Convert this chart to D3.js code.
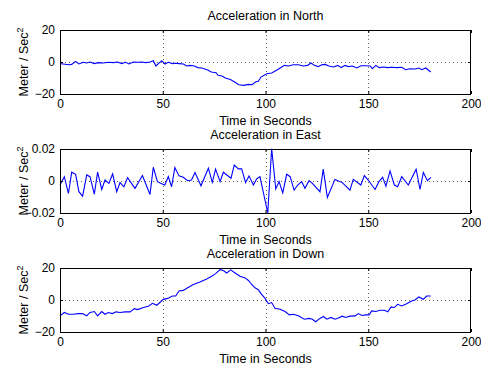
<!DOCTYPE html>
<html>
<head>
<meta charset="utf-8">
<script src="https://cdn.jsdelivr.net/npm/d3@7"></script>
<style>
html,body{margin:0;padding:0;background:#fff;}
svg{display:block;}
text{font-family:"Liberation Sans",Arial,Helvetica,sans-serif;fill:#000;}
</style>
</head>
<body>
<svg id="chart" width="481" height="367"></svg>
<script>
// ---- data ----
const titles = ["Acceleration in North", "Acceleration in East", "Acceleration in Down"];
const xTicks = [0, 50, 100, 150, 200];
const northYTicks = [-20, 0, 20];
const eastYTicks = [-0.02, 0, 0.02];
const downYTicks = [-20, 0, 20];

const northT = [0,1.6,4.1,5.7,7.6,9.2,11.4,13,14.6,16.7,18.6,21.1,23.5,25.9,28,30,31.9,33.6,35.7,37.8,39.7,41.7,43.8,45.4,46.7,48.3,49.5,51.1,52.7,54.7,56.3,57.9,60,61.7,63.3,65.4,67.1,69,71.9,73.6,75.9,76.9,78.8,80.5,82.9,85,87,89.5,91.6,93.5,95.1,96.5,97.8,100.6,103,105.4,107.9,109.2,111.1,113.5,116,118.4,120.5,122.1,123.8,125.7,127.3,129,130.9,133,135.2,136.8,138.7,140.4,142.3,144.4,146.5,148.5,150.9,152,153.7,155.3,157.4,159.5,161.5,163.9,166.3,168.2,170.3,172.8,174.7,176,178,180.4];
const northV = [-1,-1.25,-1.7,-1.5,0.4,-1.25,-0.2,-0.6,0,-1,-0.4,-0.6,-0.2,-0.4,0,-1,-0.2,-1.25,0,-0.2,0,-0.4,0,0.8,-2.5,-0.6,0.8,-1.25,-0.2,-1,-0.8,-1,-1.25,-2.5,-2.1,-2.5,-3.5,-3.75,-5,-6.25,-6.7,-8.3,-8.75,-10,-11,-12.5,-14.2,-14.6,-14,-14.2,-12.5,-12,-9.4,-7.3,-6.9,-5.2,-3.1,-2.1,-2.5,-1.7,-1.7,-2.5,-2.1,-0.6,-2.1,-2.9,-1.7,-1.5,-2.5,-3.1,-2.1,-3.5,-2.1,-2.9,-2.5,-3.75,-2.3,-2.3,-2.5,-4.2,-2.1,-3.5,-3.1,-3.5,-3.3,-3.5,-3.3,-4.8,-4.2,-4.4,-3.75,-4.8,-3.75,-6.25];

const eastT = [0,2.1,4.1,5.7,7.6,9.2,11,13,14.6,16.7,18.3,20.3,21.9,23.8,25.6,27.6,29.2,31.1,32.9,36.5,40.1,43.8,45.4,47.4,49.2,51,52.7,54.3,55.9,57.9,60,62.1,64,65.7,68.6,72.2,74.1,75.7,77.9,79.5,83.2,84.8,86.8,88.4,90.3,92,94.1,95.7,97.3,101.1,103,105,106.6,108.4,110.3,112,113.9,115.7,117.6,119.2,121.2,122.8,126.5,128.1,130.1,133.8,137.4,141.1,142.7,146.4,148.1,150,153.3,155.2,157,158.6,160.6,162.7,164.3,166.3,169.5,173.3,175.2,176.8,178.8,180.5];
const eastV = [-0.0025,0.0027,-0.0078,0.0055,0.0042,-0.0067,-0.0095,0.0038,0.0027,-0.0082,0.0055,-0.0053,0.0006,-0.0015,0.0044,-0.0067,-0.001,-0.0036,0.0021,-0.0046,0.0034,-0.0084,0.0086,-0.0004,-0.0015,-0.0025,0.0027,-0.0036,0.0084,0.0032,0.0023,0.0002,0.0006,0.0053,-0.003,0.008,-0.0008,0.0074,-0.0004,0.0055,0.0017,0.010,0.0076,0.0076,-0.001,0.0032,-0.0025,0.0013,0.0027,-0.02,0.0202,-0.005,-0.0004,-0.0074,0.0042,0.0027,-0.0057,-0.0025,-0.0004,-0.0046,0.0002,-0.0015,-0.0067,0.0074,-0.0103,0.001,-0.001,-0.0057,0.001,-0.0025,0.0034,0.0006,-0.0053,-0.0004,0.0023,-0.0032,0.0063,-0.0025,-0.0036,0.0027,-0.0025,0.0074,-0.0053,0.0053,0.0002,0.0023];

const downT = [0,2.1,4.1,6.5,8.9,10.9,13,14.6,16.7,18.3,20.3,21.9,23.5,25.5,27.3,29.2,31.6,34.1,36.2,37.8,40.6,43,45,47.1,50.3,52.4,54.7,56.3,57.9,60,62.1,64.9,68.1,71.4,73.8,75.7,77.9,79.5,81.1,83.1,85.2,87.6,90.1,91.7,93.3,94.9,96.5,98.1,99.8,101.4,103,104.6,107.1,109.5,111.6,113.5,116,118.9,121.2,122.8,124.4,126.5,128.2,129.8,131.9,133.8,135.5,137.4,139.1,141.1,143.6,145.2,146.9,148.8,150.4,151.7,153.7,155.8,157.9,159.5,161.1,162.7,164.3,166.3,168.7,171.1,172.7,174.6,176.8,178.4,180.4];
const downV = [-9.9,-7.8,-8.9,-8.9,-8.5,-8.5,-9.9,-7.8,-7.2,-9.9,-7.2,-8.9,-7.8,-8.5,-7.4,-7.8,-7.4,-7.4,-5.4,-6,-4.7,-3.9,-2.1,-3.3,0.4,1,2.5,2.5,5.6,6,7.6,9.7,11.3,13.2,14.8,16.5,19,18.4,16.9,18.8,16.9,14.8,13.8,12.2,9.7,7.6,6.4,3.5,1,-2.3,-1.6,-5.2,-5.8,-7.2,-9.3,-8.9,-9.9,-12,-11.5,-12,-13.6,-11.5,-10.3,-12,-10.9,-12,-11.3,-10.1,-10.9,-10.1,-9.9,-8.5,-9.7,-9.3,-9.3,-6.8,-7.2,-6.4,-6.4,-7.4,-4.3,-4.7,-2.7,-3.7,-2.3,-0.6,0,1.9,0.4,2.5,2.5];

const panels = [
  {title: titles[0], t: northT, v: northV, yTicks: northYTicks, yDomain: [-20, 20], fmt: d => d < 0 ? "\u2212" + Math.abs(d) : String(d)},
  {title: titles[1], t: eastT, v: eastV, yTicks: eastYTicks, yDomain: [-0.02, 0.02], fmt: d => d === 0 ? "0" : (d < 0 ? "\u2212" : "") + Math.abs(d).toFixed(2)},
  {title: titles[2], t: downT, v: downV, yTicks: downYTicks, yDomain: [-20, 20], fmt: d => d < 0 ? "\u2212" + Math.abs(d) : String(d)}
];

// ---- layout ----
const svg = d3.select("#chart");
svg.append("rect").attr("width", 481).attr("height", 367).attr("fill", "#fff");
const left = 60, right = 471, ph = 64;
const tops = [30, 149, 268];

const x = d3.scaleLinear().domain([0, 200]).range([left, right]);

panels.forEach((p, i) => {
  const top = tops[i], bottom = top + ph;
  const y = d3.scaleLinear().domain(p.yDomain).range([bottom, top]);
  const g = svg.append("g");

  // grid
  const grid = g.append("g").attr("stroke", "#666").attr("stroke-width", 1).attr("stroke-dasharray", "1,3");
  grid.selectAll("line.gx").data(xTicks.filter(d => d > 0 && d < 200)).join("line")
    .attr("x1", d => Math.round(x(d)) + 0.5).attr("x2", d => Math.round(x(d)) + 0.5)
    .attr("y1", top + 1).attr("y2", bottom);
  grid.selectAll("line.gy").data(p.yTicks.filter(d => d !== p.yDomain[0] && d !== p.yDomain[1])).join("line")
    .attr("x1", left + 1).attr("x2", right)
    .attr("y1", d => Math.round(y(d)) + 0.5).attr("y2", d => Math.round(y(d)) + 0.5);

  // data line
  const data = p.t.map((t, k) => [t, p.v[k]]);
  g.append("path").datum(data)
    .attr("fill", "none").attr("stroke", "#0000ff").attr("stroke-width", 1.1)
    .attr("d", d3.line().x(d => x(d[0])).y(d => y(d[1])));

  // axes (ticks inside)
  const axB = g.append("g").attr("transform", `translate(0,${bottom})`)
    .call(d3.axisBottom(x).tickValues(xTicks).tickSizeInner(-3).tickSizeOuter(0).tickPadding(5).tickFormat(d3.format("d")));
  const axT = g.append("g").attr("transform", `translate(0,${top})`)
    .call(d3.axisTop(x).tickValues(xTicks).tickSizeInner(-3).tickSizeOuter(0).tickFormat(""));
  const axL = g.append("g").attr("transform", `translate(${left},0)`)
    .call(d3.axisLeft(y).tickValues(p.yTicks).tickSizeInner(-3).tickSizeOuter(0).tickPadding(5).tickFormat(p.fmt));
  const axR = g.append("g").attr("transform", `translate(${right},0)`)
    .call(d3.axisRight(y).tickValues(p.yTicks).tickSizeInner(-3).tickSizeOuter(0).tickFormat(""));
  [axB, axT, axL, axR].forEach(a => {
    a.select(".domain").remove();
    a.selectAll("text").attr("font-family", "Liberation Sans, Arial, sans-serif").attr("font-size", 12).attr("fill", "#000");
    a.selectAll("line").attr("stroke", "#000");
  });

  // box
  g.append("rect").attr("x", left + 0.5).attr("y", top + 0.5)
    .attr("width", right - left - 1).attr("height", ph)
    .attr("fill", "none").attr("stroke", "#000").attr("stroke-width", 1);

  // title
  g.append("text").attr("x", (left + right) / 2).attr("y", top - 10)
    .attr("text-anchor", "middle").attr("font-size", 12.5).text(p.title);

  // x label
  g.append("text").attr("x", (left + right) / 2).attr("y", bottom + 31)
    .attr("text-anchor", "middle").attr("font-size", 12.5).text("Time in Seconds");

  // y label
  const yl = g.append("text")
    .attr("transform", `translate(28,${(top + bottom) / 2}) rotate(-90)`)
    .attr("text-anchor", "middle").attr("font-size", 12.5);
  yl.append("tspan").text("Meter / Sec");
  yl.append("tspan").attr("font-size", 9).attr("dy", -5).text("2");
});
</script>
</body>
</html>
